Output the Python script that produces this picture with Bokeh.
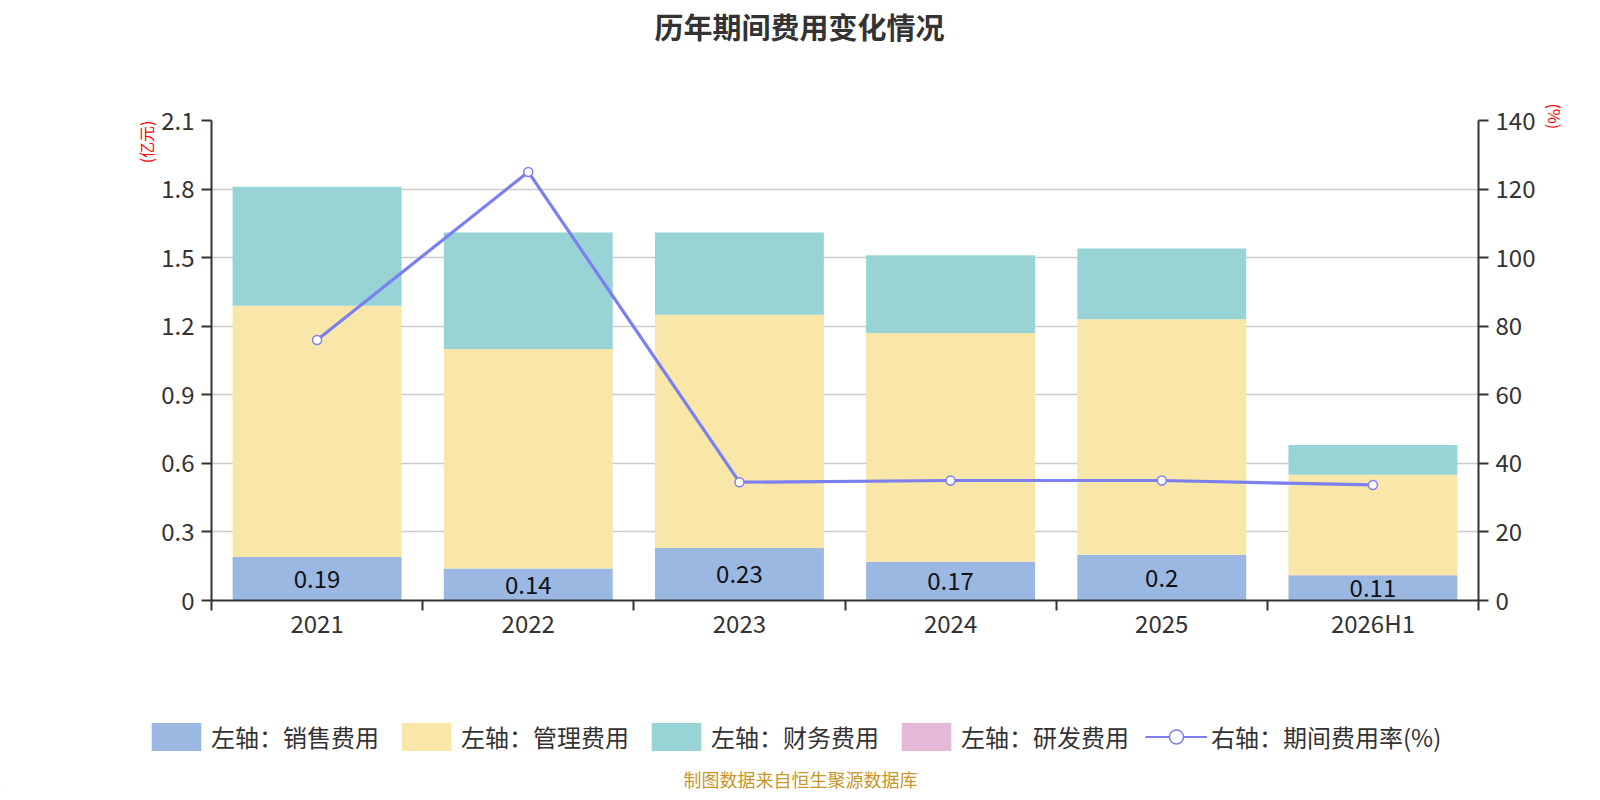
from bokeh.plotting import figure
from bokeh.layouts import column
from bokeh.models import (ColumnDataSource, Range1d, LinearAxis, FixedTicker, Title,
                          Legend, LegendItem, Label)
from bokeh.core.properties import value
from bokeh.embed import file_html
from bokeh.resources import INLINE

# ---- data ----
categories = ["2021", "2022", "2023", "2024", "2025", "2026H1"]
sales = [0.19, 0.14, 0.23, 0.17, 0.20, 0.11]          # 销售费用 (亿元)
management = [1.10, 0.96, 1.02, 1.00, 1.03, 0.44]     # 管理费用 (亿元)
finance = [0.52, 0.51, 0.36, 0.34, 0.31, 0.13]        # 财务费用 (亿元)
rnd = [0, 0, 0, 0, 0, 0]                              # 研发费用 (亿元)
rate = [76.0, 125.0, 34.5, 35.0, 35.0, 33.7]          # 期间费用率 (%)
left_ticks = [0, 0.3, 0.6, 0.9, 1.2, 1.5, 1.8, 2.1]
right_ticks = [0, 20, 40, 60, 80, 100, 120, 140]

title_text = "历年期间费用变化情况"
source_text = "制图数据来自恒生聚源数据库"
left_name = "(亿元)"
right_name = "(%)"
series_names = ["左轴：销售费用", "左轴：管理费用", "左轴：财务费用", "左轴：研发费用"]
line_name = "右轴：期间费用率(%)"

colors = ["#9bb8e2", "#f8e7a8", "#98d4d5", "#e6b8d8"]
line_color = "#7b7ff0"
FONT = "Noto Sans CJK SC"
W, H0, H1, H2 = 1584, 45, 605, 140


def strip(height):
    f = figure(width=W, height=height, output_backend="svg", toolbar_location=None,
               x_range=Range1d(0, W), y_range=Range1d(0, height), min_border=0)
    f.frame_align = False
    f.outline_line_color = None
    f.axis.visible = False
    f.grid.grid_line_color = None
    f.title.visible = False
    return f


# ---- title strip ----
p0 = strip(H0)
p0.add_layout(Label(x=799, y=H0 - 25, text=title_text, text_align="center",
                    text_baseline="middle", text_color="#333333", text_font=FONT,
                    text_font_size="29px", text_font_style="bold"))

# ---- main chart ----
xs = [i + 0.5 for i in range(len(categories))]
src = ColumnDataSource(dict(x=xs, sales=sales, management=management, finance=finance,
                            rnd=rnd, rate=rate,
                            label_y=[v / 2 for v in sales],
                            label=[f"{v:g}" for v in sales]))

p = figure(width=W, height=H1, output_backend="svg", toolbar_location=None,
           x_range=Range1d(0, len(categories)), y_range=Range1d(0, 2.1),
           min_border_left=211, min_border_right=W - 1478, min_border_top=120 - H0,
           min_border_bottom=H1 - (600 - H0))
p.frame_align = False
p.outline_line_color = None
p.background_fill_color = "white"
p.border_fill_color = "white"
p.title.visible = False
p.extra_y_ranges = {"rate": Range1d(0, 140)}

bars = p.vbar_stack(["sales", "management", "finance", "rnd"], x="x", width=0.8,
                    source=src, color=colors, line_color=None)

line = p.line("x", "rate", source=src, y_range_name="rate", color=line_color,
              line_width=3.2)
pts = p.scatter("x", "rate", source=src, y_range_name="rate", size=9, fill_color="white",
                line_color=line_color, line_width=1.5)

p.text("x", "label_y", text="label", source=src, text_align="center",
       text_baseline="middle", text_font=value(FONT), text_font_size="24px",
       text_color="#111111")

tick_color = "#333333"
xa = p.xaxis[0]
xa.ticker = FixedTicker(ticks=xs, minor_ticks=list(range(len(categories) + 1)))
xa.major_label_overrides = {x: c for x, c in zip(xs, categories)}
xa.major_tick_out = 0
xa.major_tick_in = 0
xa.minor_tick_out = 10
xa.minor_tick_in = 0
xa.minor_tick_line_color = tick_color
xa.minor_tick_line_width = 2
xa.major_label_standoff = -6

ya = p.yaxis[0]
ya.ticker = FixedTicker(ticks=left_ticks)
ya.major_label_overrides = {0: "0"}

ra = LinearAxis(y_range_name="rate", ticker=FixedTicker(ticks=right_ticks))
p.add_layout(ra, "right")

for ax in [xa, ya, ra]:
    ax.axis_line_color = tick_color
    ax.axis_line_width = 2
    ax.major_tick_line_color = tick_color
    ax.major_tick_line_width = 2
    ax.major_label_text_font = FONT
    ax.major_label_text_font_size = "24px"
    ax.major_label_text_color = tick_color
for ax in [ya, ra]:
    ax.major_tick_out = 10
    ax.major_tick_in = 0
    ax.minor_tick_line_color = None
    ax.major_label_standoff = 7

p.xgrid.grid_line_color = None
p.ygrid.ticker = FixedTicker(ticks=left_ticks[1:])
p.ygrid.grid_line_color = "#cccccc"
p.ygrid.grid_line_width = 1.5

p.add_layout(Title(text=left_name, align="right", standoff=2, text_color="red",
                   text_font=FONT, text_font_size="16px", text_font_style="normal"), "left")
p.add_layout(Title(text=right_name, align="left", offset=-17, standoff=8, text_color="red",
                   text_font=FONT, text_font_size="16px", text_font_style="normal"), "right")

# ---- legend + source note strip ----
p2 = strip(H2)
off = [-1000]   # legend-only renderers, kept outside the visible range
leg_bars = [p2.vbar(x=off, top=[1], width=1, color=c, line_color=None) for c in colors]
leg_line = p2.line(x=[-1000, -999], y=[1, 1], color=line_color, line_width=2)
leg_pts = p2.scatter(x=off, y=[1], size=22, fill_color="white", line_color=line_color,
                     line_width=1.5)

items = [LegendItem(label=n, renderers=[r]) for n, r in zip(series_names, leg_bars)]
items.append(LegendItem(label=line_name, renderers=[leg_line, leg_pts]))
legend = Legend(items=items, orientation="horizontal", location=(145, 36),
                glyph_width=62, glyph_height=35, spacing=16, label_standoff=4,
                label_text_font=FONT, label_text_font_size="24px",
                label_text_color="#333333", border_line_alpha=0,
                background_fill_alpha=0, padding=0, margin=0)
p2.add_layout(legend, "center")

p2.add_layout(Label(x=800, y=12, text=source_text, text_align="center",
                    text_baseline="middle", text_color="#c8962a", text_font=FONT,
                    text_font_size="18px"))

layout = column(p0, p, p2, spacing=0)
open("out.html", "w").write(file_html(layout, INLINE))
